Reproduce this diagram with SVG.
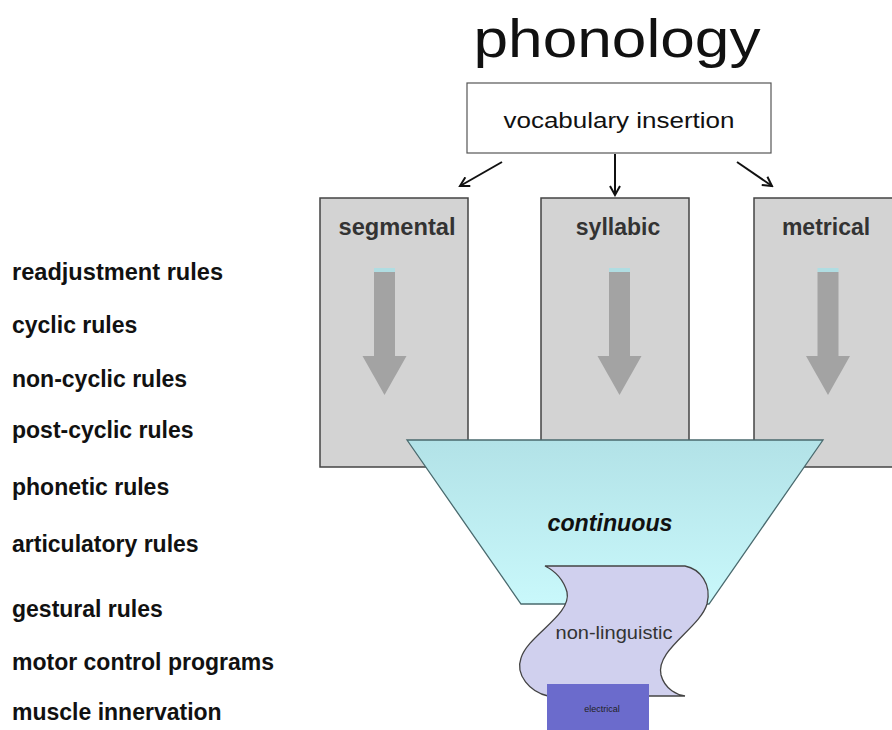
<svg xmlns="http://www.w3.org/2000/svg" width="892" height="730" viewBox="0 0 892 730">
<defs>
<linearGradient id="fun" x1="0" y1="0" x2="0" y2="1">
<stop offset="0" stop-color="#b2e2e7"/>
<stop offset="1" stop-color="#c9f8fb"/>
</linearGradient>
<marker id="ah" markerWidth="12" markerHeight="12" refX="10" refY="6" orient="auto" markerUnits="userSpaceOnUse">
<path d="M1,1 L10,6 L1,11" fill="none" stroke="#111" stroke-width="2"/>
</marker>
<g id="garrow">
<rect x="-10.5" y="0" width="21" height="4" fill="#b0dde2"/>
<rect x="-10.5" y="4" width="21" height="86" fill="#a3a3a3"/>
<path d="M-22,88 L22,88 L0,127 Z" fill="#a3a3a3"/>
</g>
</defs>
<style>
.box{fill:#d3d3d3;stroke:#444;stroke-width:1.5}
.lbl{font-family:"Liberation Sans",Arial,sans-serif;font-weight:bold;font-size:23px;fill:#333;text-anchor:middle}
.rule{font-family:"Liberation Sans",Arial,sans-serif;font-weight:bold;font-size:23px;fill:#111}
</style>
<rect width="892" height="730" fill="#fff"/>
<text x="617" y="57" font-family="Liberation Sans,Arial,sans-serif" font-size="54" fill="#111" text-anchor="middle" textLength="287" lengthAdjust="spacingAndGlyphs">phonology</text>
<g id="vocab">
<rect x="467" y="83" width="304" height="70" fill="#fff" stroke="#555" stroke-width="1.2"/>
<text x="619" y="128" font-family="Liberation Sans,Arial,sans-serif" font-size="22" fill="#111" text-anchor="middle" textLength="231" lengthAdjust="spacingAndGlyphs">vocabulary insertion</text>
</g>
<g id="connectors" stroke="#111" stroke-width="2" fill="none">
<line x1="502" y1="162" x2="460" y2="186" marker-end="url(#ah)"/>
<line x1="615" y1="154" x2="615" y2="195" marker-end="url(#ah)"/>
<line x1="737" y1="162" x2="772" y2="186" marker-end="url(#ah)"/>
</g>
<g id="segmental">
<rect class="box" x="320" y="198" width="148" height="269"/>
<text class="lbl" x="397" y="235" textLength="117" lengthAdjust="spacingAndGlyphs">segmental</text>
<use href="#garrow" x="384.5" y="268"/>
</g>
<g id="syllabic">
<rect class="box" x="541" y="198" width="148" height="269"/>
<text class="lbl" x="618" y="235">syllabic</text>
<use href="#garrow" x="619.5" y="268"/>
</g>
<g id="metrical">
<rect class="box" x="754" y="198" width="150" height="269"/>
<text class="lbl" x="826" y="235">metrical</text>
<use href="#garrow" x="828" y="268"/>
</g>
<g id="continuous">
<path d="M407,440 L823,440 L709,604 L521,604 Z" fill="url(#fun)" stroke="#4a6a6e" stroke-width="1.3"/>
<text x="610" y="531" font-family="Liberation Sans,Arial,sans-serif" font-weight="bold" font-style="italic" font-size="23" fill="#111" text-anchor="middle" textLength="125" lengthAdjust="spacingAndGlyphs">continuous</text>
</g>
<g id="nonling">
<path d="M545,566 L685,566 C700,569 712,584 707,604 C700,628 655,650 661,675 C665,690 678,695 685,696 L548,696 C530,692 515,675 521,658 C528,635 572,615 567,592 C563,578 553,570 545,566 Z" fill="#d0d0ee" stroke="#444" stroke-width="1.3"/>
<text x="614" y="639" font-family="Liberation Sans,Arial,sans-serif" font-size="19" fill="#333" text-anchor="middle" textLength="117" lengthAdjust="spacingAndGlyphs">non-linguistic</text>
</g>
<g id="electrical">
<rect x="547" y="684" width="102" height="46" fill="#6b6bcc"/>
<text x="602" y="712" font-family="Liberation Sans,Arial,sans-serif" font-size="9" fill="#222" text-anchor="middle">electrical</text>
</g>
<g id="rules">
<text class="rule" x="12" y="280" textLength="211" lengthAdjust="spacingAndGlyphs">readjustment rules</text>
<text class="rule" x="12" y="333">cyclic rules</text>
<text class="rule" x="12" y="387">non-cyclic rules</text>
<text class="rule" x="12" y="438">post-cyclic rules</text>
<text class="rule" x="12" y="495">phonetic rules</text>
<text class="rule" x="12" y="552">articulatory rules</text>
<text class="rule" x="12" y="617">gestural rules</text>
<text class="rule" x="12" y="670">motor control programs</text>
<text class="rule" x="12" y="720">muscle innervation</text>
</g>
</svg>
